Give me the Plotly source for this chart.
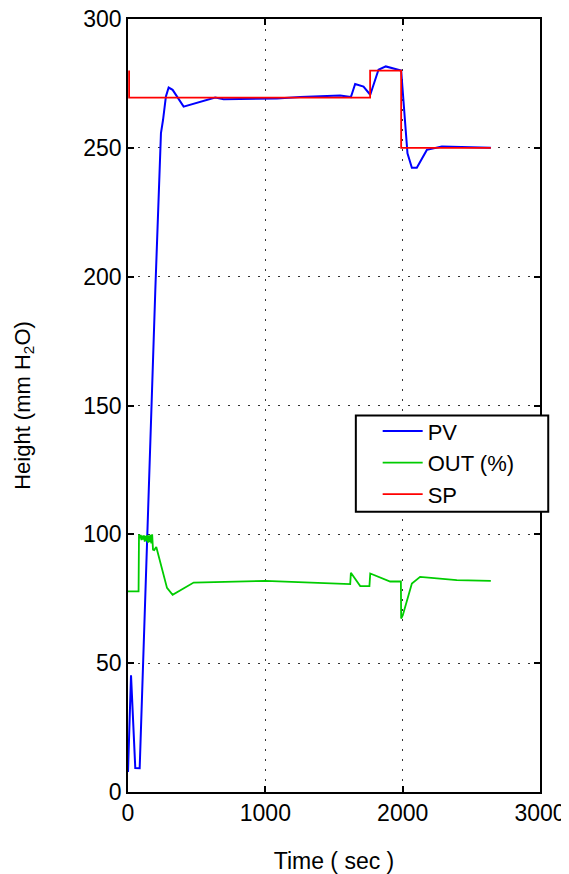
import plotly.graph_objects as go

# ---- data ----
pv_t = [0, 22, 53, 85, 199, 218, 240, 255, 276, 296, 325, 405, 635, 696, 1000, 1084,
        1254, 1545, 1623, 1654, 1715, 1764, 1824, 1877, 1989, 2006, 2035, 2067, 2103,
        2176, 2224, 2285, 2642]
pv_y = [7.8, 45.3, 9.3, 9.2, 195, 227, 255.7, 260.8, 269.9, 273.4, 272.5, 266, 269.5,
        268.9, 269, 269.1, 269.7, 270.3, 269.7, 274.8, 273.8, 270.6, 280.3, 281.6, 280,
        268.6, 247.9, 242.3, 242.3, 249.2, 249.9, 250.5, 250]

out_t = [0, 77, 80, 86, 92, 98, 104, 110, 116, 122, 128, 134, 140, 146, 152, 158, 164,
         170, 176, 182, 191, 206, 284, 325, 478, 1000, 1618, 1623, 1691, 1758, 1764,
         1909, 1987, 1989, 2001, 2067, 2127, 2394, 2642]
out_y = [77.9, 77.9, 100, 98.5, 99.8, 97.8, 99.5, 98, 99.6, 97.2, 99.4, 97.5, 99.7, 96.8,
         99.5, 97, 99.8, 96.5, 100, 94.1, 93.9, 95.1, 79.2, 76.5, 81.3, 81.9, 80.7, 85.1,
         79.9, 79.9, 84.8, 81.7, 81.7, 67.3, 68.6, 80.9, 83.5, 82.2, 81.9]

sp_t = [8, 8, 1763, 1763, 1989, 1989, 2642]
sp_y = [280, 269.5, 269.5, 280, 280, 250, 250]

x_ticks = [0, 1000, 2000, 3000]
y_ticks = [0, 50, 100, 150, 200, 250, 300]

FONT = "Liberation Sans, Arial, sans-serif"

fig = go.Figure()
fig.add_trace(go.Scatter(x=pv_t, y=pv_y, mode="lines", name="PV",
                         line=dict(color="#0000ff", width=2)))
fig.add_trace(go.Scatter(x=out_t, y=out_y, mode="lines", name="OUT (%)",
                         line=dict(color="#00cc00", width=1.8)))
fig.add_trace(go.Scatter(x=sp_t, y=sp_y, mode="lines", name="SP",
                         line=dict(color="#ff0000", width=1.8)))

axis_common = dict(
    showline=True, mirror="ticks", linecolor="black", linewidth=1.5,
    ticks="inside", ticklen=6, tickcolor="black", tickwidth=1.5,
    showgrid=True, gridcolor="#333333", gridwidth=1.2, griddash="2px,8px",
    zeroline=False, tickfont=dict(family=FONT, size=23, color="black"),
    ticklabeloverflow="allow",
)

fig.update_xaxes(range=[0, 3000], tickvals=x_ticks, ticktext=[str(v) for v in x_ticks],
                 title=dict(text="Time ( sec )", font=dict(family=FONT, size=23, color="black"),
                            standoff=29),
                 **axis_common)
fig.update_yaxes(range=[0, 300], tickvals=y_ticks, ticktext=[str(v) for v in y_ticks],
                 title=dict(text="Height (mm H<sub>2</sub>O)",
                            font=dict(family=FONT, size=22, color="black"), standoff=47),
                 **axis_common)

# legend frame
fig.add_shape(type="rect", xref="paper", yref="paper", x0=0.553, x1=1.020, y0=0.3625, y1=0.487,
              line=dict(color="black", width=2), fillcolor="white", layer="above")

# page body has an 8px margin: compensate so the plot area lands at x 128-540, y 19-792
fig.update_layout(
    width=561, height=866,
    margin=dict(l=120, r=29, t=11, b=82, autoexpand=False),
    paper_bgcolor="white", plot_bgcolor="white",
    font=dict(family=FONT, color="black"),
    showlegend=True,
    legend=dict(x=0.606, y=0.494, xanchor="left", yanchor="top",
                bgcolor="rgba(0,0,0,0)", borderwidth=0,
                font=dict(family=FONT, size=22, color="black"),
                itemwidth=40, tracegroupgap=0),
)

fig.write_html("out.html")
